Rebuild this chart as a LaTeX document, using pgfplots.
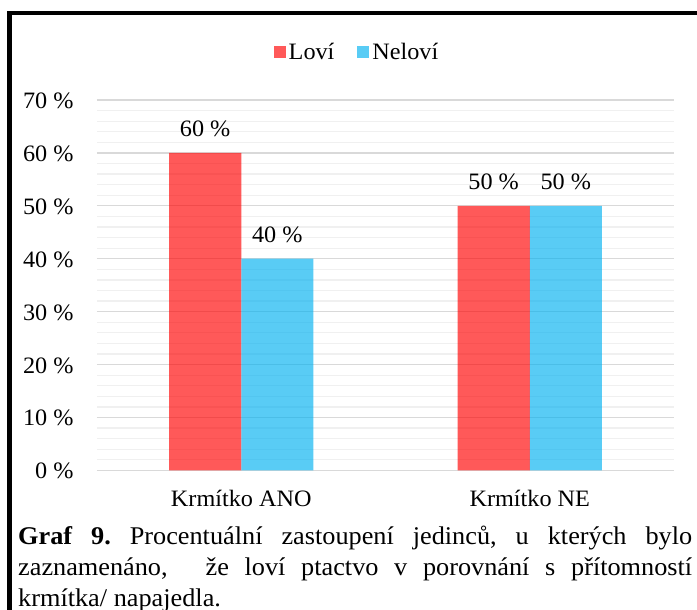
\documentclass[border=0pt]{standalone}
\usepackage{fontspec}
\setmainfont[FakeStretch=1.03]{Liberation Serif}
\usepackage{pgfplots}
\pgfplotsset{compat=1.18}
\definecolor{barred}{RGB}{255,0,0}
\definecolor{barblue}{RGB}{0,176,240}
\definecolor{gridmaj}{RGB}{217,217,217}
\definecolor{gridmin}{RGB}{240,240,240}
\frenchspacing
\begin{document}
\begin{tikzpicture}[font=\fontsize{23.5bp}{31bp}\selectfont]
\useasboundingbox (-97bp,-139.6bp) rectangle (600bp,470.4bp);
\begin{axis}[
  scale only axis, width=577bp, height=370.4bp,
  xmin=-0.5, xmax=1.5, ymin=0, ymax=70,
  ybar=0pt, bar width=0.25,
  axis line style={draw=none},
  xtick={0,1}, xticklabels={Krmítko ANO, Krmítko NE},
  ytick={0,10,...,70},
  yticklabels={0 \%,10 \%,20 \%,30 \%,40 \%,50 \%,60 \%,70 \%},
  minor y tick num=4,
  major tick length=0pt, minor tick length=0pt,
  ymajorgrids, yminorgrids,
  major grid style={draw=gridmaj, line width=1.3bp},
  minor grid style={draw=gridmin, line width=1.3bp},
  xticklabel style={anchor=base, yshift=-36bp},
  yticklabel style={anchor=base east, yshift=-8.5bp, xshift=-20bp},
  /pgf/number format/assume math mode=true,
  nodes near coords={\pgfmathprintnumber{\pgfplotspointmeta}~\%},
  every node near coord/.append style={anchor=base, yshift=16bp, text=black, fill opacity=1, text opacity=1},
  legend columns=2,
  legend style={at={(0.4515,1.13)}, anchor=center, draw=none, fill=none,
    /tikz/every even column/.append style={column sep=20bp},
    inner sep=0pt, nodes={inner xsep=3bp, inner ysep=0pt}},
  legend image code/.code={\fill[#1] (0bp,-6bp) rectangle (12bp,6bp);},
]
\addplot[fill=barred, fill opacity=0.65, draw=none] coordinates {(0,60) (1,50)};
\addlegendentry{Loví}
\addplot[fill=barblue, fill opacity=0.65, draw=none] coordinates {(0,40) (1,50)};
\addlegendentry{Neloví}
\end{axis}
\draw[line width=4.3bp] (-87.5bp,-160bp) -- (-87.5bp,457.4bp) -- (620bp,457.4bp);
\node[anchor=base west, text width=674bp, align=justify, inner sep=0pt,
      font=\fontsize{25.5bp}{31bp}\selectfont] at (-79bp,-73.6bp)
  {\frenchspacing\textbf{Graf 9.} Procentuální zastoupení jedinců, u kterých bylo\linebreak zaznamenáno,\hspace{38bp}že loví ptactvo v porovnání s~přítomností\linebreak krmítka/ napajedla.};
\end{tikzpicture}
\end{document}
